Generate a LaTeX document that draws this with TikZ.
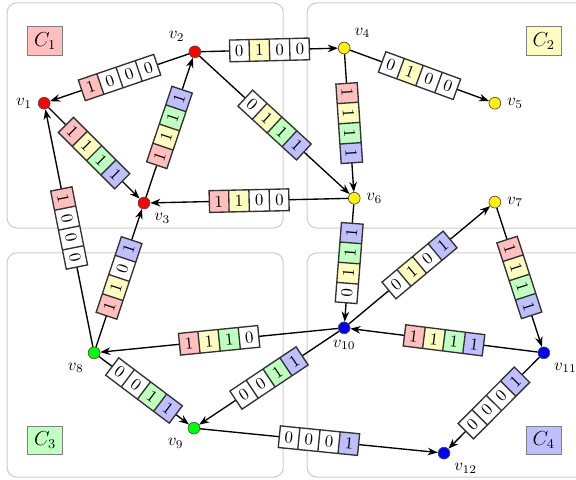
\documentclass[tikz,border=0pt]{standalone}
\usepackage{amsmath}
\usetikzlibrary{arrows.meta,shapes.multipart}

\colorlet{bitA1}{red!25}
\colorlet{bitB1}{yellow!25}
\colorlet{bitC1}{green!25}
\colorlet{bitD1}{blue!25}
\colorlet{bitA0}{white}
\colorlet{bitB0}{white}
\colorlet{bitC0}{white}
\colorlet{bitD0}{white}

\tikzset{
  vertex/.style={circle, draw=black!70, inner sep=0pt, minimum size=7pt},
  edge/.style={thick, -{Stealth[length=6pt,width=4.5pt]}},
  region/.style={gray!40, semithick, rounded corners=0.2cm},
  cluster/.style={draw=black!50, minimum width=0.73cm, minimum height=0.58cm, font=\large},
  bitbox/.style={draw=black!80, rectangle split, rectangle split horizontal,
    rectangle split parts=4, inner xsep=3.1pt, inner ysep=3pt, midway, sloped},
  bits/.style n args={4}{bitbox,
    rectangle split part fill={bitA#1,bitB#2,bitC#3,bitD#4},
    node contents={#1\nodepart{two}#2\nodepart{three}#3\nodepart{four}#4}},
}

\begin{document}
\begin{tikzpicture}

  \useasboundingbox (0,0) rectangle (12,-9.98);

  \draw[region] (0.15,-0.06) rectangle (5.9,-4.75);
  \draw[region] (6.4,-0.06) rectangle (12.5,-4.75);
  \draw[region] (0.15,-5.27) rectangle (5.9,-9.94);
  \draw[region] (6.4,-5.27) rectangle (12.5,-9.94);

  \node[cluster, fill=bitA1] (c1) at (0.94,-0.85) {$C_1$};
  \node[cluster, fill=bitB1] (c2) at (11.33,-0.85) {$C_2$};
  \node[cluster, fill=bitC1] (c3) at (0.94,-9.17) {$C_3$};
  \node[cluster, fill=bitD1] (c4) at (11.33,-9.17) {$C_4$};

  \node[vertex, fill=red, label=left:$v_1$] (v1) at (0.92,-2.15) {};
  \node[vertex, fill=red, label=above left:$v_2$] (v2) at (4.06,-1.08) {};
  \node[vertex, fill=red, label=below right:$v_3$] (v3) at (3.0,-4.23) {};
  \node[vertex, fill=yellow, label=above right:$v_4$] (v4) at (7.17,-1.0) {};
  \node[vertex, fill=yellow, label=right:$v_5$] (v5) at (10.31,-2.15) {};
  \node[vertex, fill=yellow, label=right:$v_6$] (v6) at (7.38,-4.13) {};
  \node[vertex, fill=yellow, label=right:$v_7$] (v7) at (10.31,-4.21) {};
  \node[vertex, fill=green, label=below left:$v_8$] (v8) at (1.96,-7.35) {};
  \node[vertex, fill=green, label=below left:$v_9$] (v9) at (4.04,-8.92) {};
  \node[vertex, fill=blue, label=below:$v_{10}$] (v10) at (7.17,-6.83) {};
  \node[vertex, fill=blue, label=below right:$v_{11}$] (v11) at (11.33,-7.35) {};
  \node[vertex, fill=blue, label=below right:$v_{12}$] (v12) at (9.25,-9.44) {};

  \draw[edge] (v2) -- (v1) node[bits={1}{0}{0}{0}];
  \draw[edge] (v2) -- (v4) node[bits={0}{1}{0}{0}];
  \draw[edge] (v1) -- (v3) node[bits={1}{1}{1}{1}];
  \draw[edge] (v3) -- (v2) node[bits={1}{1}{1}{1}];
  \draw[edge] (v2) -- (v6) node[bits={0}{1}{1}{1}];
  \draw[edge] (v4) -- (v5) node[bits={0}{1}{0}{0}];
  \draw[edge] (v4) -- (v6) node[bits={1}{1}{1}{1}];
  \draw[edge] (v6) -- (v3) node[bits={1}{1}{0}{0}];
  \draw[edge] (v8) -- (v1) node[bits={1}{0}{0}{0}];
  \draw[edge] (v8) -- (v3) node[bits={1}{1}{0}{1}];
  \draw[edge] (v6) -- (v10) node[bits={0}{1}{1}{1}];
  \draw[edge] (v10) -- (v7) node[bits={0}{1}{0}{1}];
  \draw[edge] (v7) -- (v11) node[bits={1}{1}{1}{1}];
  \draw[edge] (v11) -- (v10) node[bits={1}{1}{1}{1}];
  \draw[edge] (v10) -- (v8) node[bits={1}{1}{1}{0}];
  \draw[edge] (v8) -- (v9) node[bits={0}{0}{1}{1}];
  \draw[edge] (v10) -- (v9) node[bits={0}{0}{1}{1}];
  \draw[edge] (v9) -- (v12) node[bits={0}{0}{0}{1}];
  \draw[edge] (v11) -- (v12) node[bits={0}{0}{0}{1}];

\end{tikzpicture}
\end{document}
